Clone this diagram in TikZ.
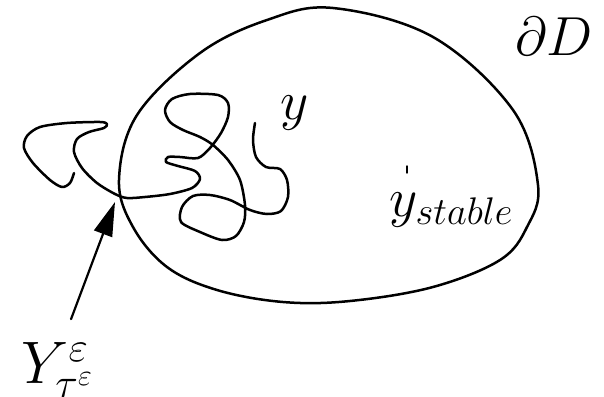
\RequirePackage{fix-cm}
\documentclass[tikz,border=0pt]{standalone}
\usepackage{amsmath,amssymb}
\usepackage{xcolor}
\usepackage{tikz}
\usetikzlibrary{arrows.meta}
\definecolor{ink}{HTML}{000000}
\tikzset{
  sketch diagram/.style={
    x=0.5pt,
    y=-0.5pt,
    line cap=round,
    line join=round
  },
  domainline/.style={
    draw=ink,
    line width=1.25pt
  },
  walkline/.style={
    draw=ink,
    line width=1.25pt
  },
  hitarrow/.style={
    -{Triangle[length=17pt,width=9.5pt]},
    draw=ink,
    line width=1.1pt
  },
  biglabel/.style={
    inner sep=0pt,
    text=ink,
    font=\fontsize{27.5}{32}\selectfont
  }
}

\begin{document}
\begin{tikzpicture}[sketch diagram]
\useasboundingbox (0,0) rectangle (604,396);
% the domain D
\draw[domainline] plot[smooth cycle, tension=0.6] coordinates {
  (119,180) (137,115) (200,53) (267,20) (333,8) (433,37) (513,110)
  (538,185) (527,227) (500,260) (433,287) (350,301) (283,302)
  (217,290) (167,267) (133,227)};
% sample path
\draw[walkline] plot[smooth, tension=0.5] coordinates {
  (255,123) (253,140) (256,157) (266,167) (280,169) (287,180) (288,197)
  (281,211) (267,214) (250,210) (230,200) (210,195) (193,196) (182,207)
  (181,222) (200,232) (222,240) (236,236) (244,222) (245,205) (240,180)
  (228,160) (213,145) (200,137) (183,130) (170,122) (165,110) (172,99)
  (190,94) (218,95) (228,103) (228,117) (221,133) (210,148) (198,158)
  (180,157) (168,157) (166,162) (178,166) (195,171) (200,179) (192,188)
  (170,194) (145,197) (127,198) (115,194) (97,183) (82,168) (74,152)
  (77,139) (89,132) (104,128) (107,124) (100,122) (67,123) (40,127)
  (27,136) (24,148) (33,163) (50,180) (62,187) (70,183) (74,173)};
\coordinate (exit) at (115,202);
\coordinate (ystab) at (407,169);
\draw[draw=ink, line width=0.7pt] (ystab) ++(0,-3) -- ++(0,7);

\node[biglabel, anchor=base west] (bd) at (515,55) {$\partial D$};
\node[biglabel, anchor=base] (ystart) at (295,119) {$y$};
\node[biglabel, anchor=base west] (ystable) at (389,216) {$y_{stable}$};
\node[biglabel, anchor=base west, font=\fontsize{30}{34}\selectfont] (hit) at (21,383) {$Y^{\varepsilon}_{\tau^{\varepsilon}}$};

\draw[hitarrow, shorten <=12pt] ([xshift=2.5pt]hit.north) -- (exit);
\end{tikzpicture}
\end{document}
